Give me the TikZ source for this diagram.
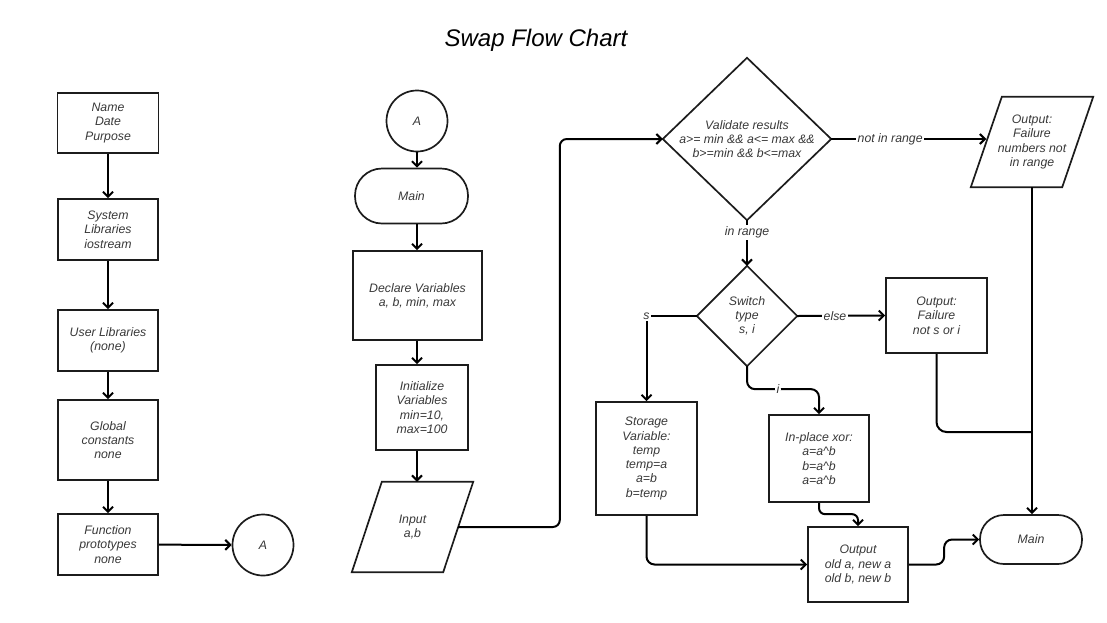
\documentclass[tikz,border=0pt]{standalone}
\usepackage{fontspec}
\setmainfont{Liberation Sans}
\usetikzlibrary{arrows.meta,calc}
\definecolor{txt}{HTML}{383838}
\definecolor{ln}{HTML}{1C1C1C}
\begin{document}
\begin{tikzpicture}[x=1pt,y=-1pt,
  every node/.style={font=\fontsize{12.3}{14.3}\selectfont\itshape, text=txt, align=center, inner sep=1pt},
  box/.style={draw=ln, line width=1.7pt},
  outline/.style={draw=ln, line width=1.7pt},
  term/.style={draw=ln, line width=1.7pt, rounded corners=#1},
  rnd/.style={draw=ln, line width=1.7pt, circle, minimum size=61pt},
  conn/.style={draw=black, line width=2pt, -{Straight Barb[length=5pt,width=10pt]}},
  plain/.style={draw=black, line width=2pt},
  lbl/.style={fill=white, inner sep=1.5pt}
]
\useasboundingbox (0,0) rectangle (1107,622);

% title
\node[font=\fontsize{24}{28}\selectfont\itshape, text=black] (title) at (536,40) {Swap Flow Chart};

% ---------- left column ----------
\node[box, minimum width=101pt, minimum height=60pt] (name) at (108,123) {Name\\Date\\Purpose};
\node[box, minimum width=100pt, minimum height=61pt] (syslib) at (108,229.5) {System\\Libraries\\iostream};
\node[box, minimum width=100pt, minimum height=61pt] (userlib) at (108,340.5) {User Libraries\\(none)};
\node[box, minimum width=100pt, minimum height=80pt] (global) at (108,440) {Global\\constants\\none};
\node[box, minimum width=100pt, minimum height=61pt] (proto) at (108,544.5) {Function\\prototypes\\none};
\node[rnd] (A1) at (263,545) {A};

\draw[conn] (name) -- (syslib);
\draw[conn] (syslib) -- (userlib);
\draw[conn] (userlib) -- (global);
\draw[conn] (global) -- (proto);
\draw[conn] (proto) -- (A1);

% ---------- second column ----------
\node[rnd] (A2) at (417,121) {A};
\node[term=27pt, minimum width=113pt, minimum height=55pt] (main1) at (411.5,196) {Main};
\node[box, minimum width=129pt, minimum height=89pt] (declare) at (417.5,295.5) {Declare Variables\\a, b, min, max};
\node[box, minimum width=92pt, minimum height=85pt] (init) at (422,407.5) {Initialize\\Variables\\min=10,\\max=100};
\node[minimum width=91pt, minimum height=90pt] (input) at (412.5,527) {Input\\a,b};
\draw[outline] ([xshift=15pt]input.north west) -- ([xshift=15pt]input.north east)
  -- ([xshift=-15pt]input.south east) -- ([xshift=-15pt]input.south west) -- cycle;

\draw[conn] (A2) -- (A2 |- main1.north);
\draw[conn] (A2 |- main1.south) -- (A2 |- declare.north);
\draw[conn] (A2 |- declare.south) -- (A2 |- init.north);
\draw[conn] (A2 |- init.south) -- (A2 |- input.north);

% ---------- decisions ----------
\node[minimum width=168pt, minimum height=162pt] (valid) at (747,139) {Validate results\\a>= min \&\& a<= max \&\&\\b>=min \&\& b<=max};
\draw[outline] (valid.north) -- (valid.east) -- (valid.south) -- (valid.west) -- cycle;

\node[minimum width=100pt, minimum height=100pt] (switch) at (747,316) {Switch\\type\\s, i};
\draw[outline] (switch.north) -- (switch.east) -- (switch.south) -- (switch.west) -- cycle;

\draw[conn, rounded corners=7pt] (input.east) -| ([xshift=-103pt]valid.west) -- (valid.west);

% not in range output
\node[minimum width=91pt, minimum height=90pt] (fail1) at (1032,142) {Output:\\Failure\\numbers not\\in range};
\draw[outline] ([xshift=15.5pt]fail1.north west) -- ([xshift=15.5pt]fail1.north east)
  -- ([xshift=-15.5pt]fail1.south east) -- ([xshift=-15.5pt]fail1.south west) -- cycle;

\draw[conn] (valid.east) -- node[lbl, pos=0.38] {not in range} (valid.east -| fail1.west);
\draw[conn] (valid.south) -- node[lbl, pos=0.27] {in range} (switch.north);

% ---------- third area ----------
\node[box, minimum width=101pt, minimum height=75pt] (fail2) at (936.5,315.5) {Output:\\Failure\\not s or i};
\node[box, minimum width=101pt, minimum height=113pt] (storage) at (646.5,458.5) {Storage\\Variable:\\temp\\temp=a\\a=b\\b=temp};
\node[box, minimum width=100pt, minimum height=87pt] (xor) at (819,458.5) {In-place xor:\\a=a\textasciicircum b\\b=a\textasciicircum b\\a=a\textasciicircum b};
\node[box, minimum width=100pt, minimum height=75pt] (output) at (858,564.5) {Output\\old a, new a\\old b, new b};
\node[term=24pt, minimum width=102pt, minimum height=49pt] (main2) at (1031,539.5) {Main};
\coordinate (merge) at (1032,432);

\draw[conn] (switch.east) -- node[lbl, pos=0.43] {else} (fail2.west);
\draw[conn] (switch.west) -| node[lbl, pos=0.5] {s} (storage.north);
\draw[conn, rounded corners=8pt] (switch.south) |- node[lbl, pos=0.715] {i} ([yshift=25pt]xor.north) -- (xor.north);
\draw[conn, rounded corners=6pt] (xor.south) |- ([yshift=12pt]output.north) -- (output.north);
\draw[conn, rounded corners=8pt] (storage.south) |- (output.west);
\draw[conn, rounded corners=8pt] (output.east) -| ([xshift=-35pt]main2.west) -- (main2.west);
\draw[conn] (fail1.south) -- (fail1.south |- main2.north);
\draw[plain, rounded corners=10pt] (fail2.south) |- (merge);
\end{tikzpicture}
\end{document}
